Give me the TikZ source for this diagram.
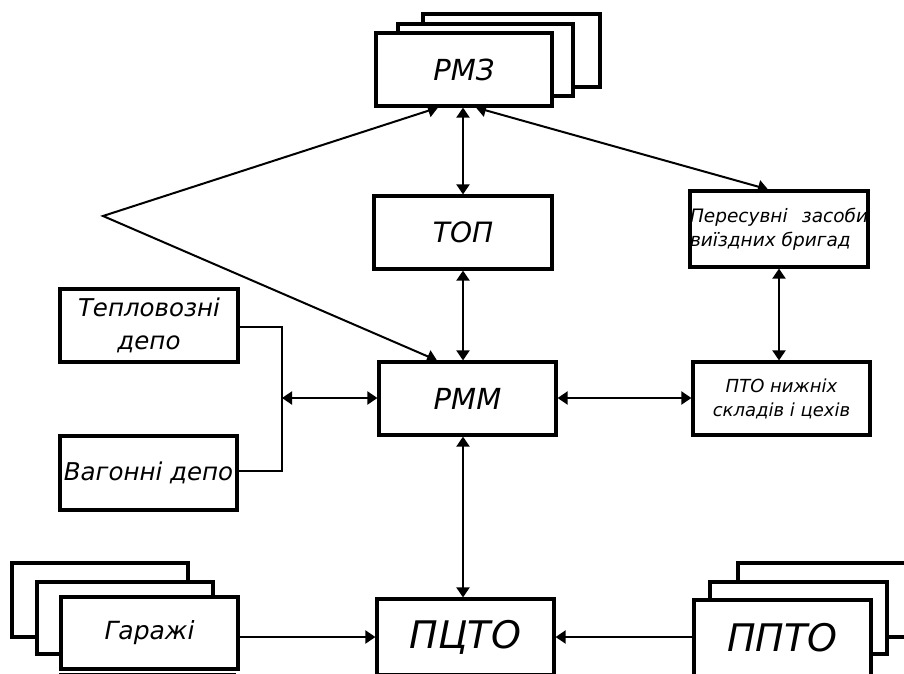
\documentclass[tikz,border=0pt]{standalone}
\usepackage{fontspec}
\newfontfamily\dvs{DejaVu Sans}
\usetikzlibrary{arrows.meta}
\begin{document}
\begin{tikzpicture}[x=1pt,y=-1pt,
  box/.style={draw, line width=3.2pt, fill=white, inner sep=0pt, align=center, font=\dvs\itshape},
  tip/.tip={Triangle[length=10pt,width=13pt]},
  both/.style={line width=2pt, tip-tip},
  into/.style={line width=2pt, -tip},
  thin/.style={line width=1.6pt}]
\clip (0,0) rectangle (904,673);
% RMZ stack
\node[box, minimum width=177pt, minimum height=73pt] (rmzc) at (511.5,50.5) {};
\node[box, minimum width=175pt, minimum height=72pt] (rmzb) at (485.5,60) {};
\node[box, minimum width=176pt, minimum height=73pt, font=\dvs\itshape\fontsize{29}{33}\selectfont] (rmz) at (464,69.5) {РМЗ};
% TOP
\node[box, minimum width=178pt, minimum height=73pt, font=\dvs\itshape\fontsize{28}{33}\selectfont] (top) at (463,232.5) {ТОП};
% RMM
\node[box, minimum width=177pt, minimum height=73pt, font=\dvs\itshape\fontsize{29}{33}\selectfont] (rmm) at (467.5,398.5) {РММ};
% Peresuvni
\node[box, minimum width=178pt, minimum height=76pt, align=left, font=\dvs\itshape\fontsize{18.5}{24}\selectfont] (pere) at (779,229) {\makebox[178pt][s]{Пересувні\hspace{8pt plus 1fil}засоби}\\виїздних бригад\hspace{18pt}};
% PTO
\node[box, minimum width=177pt, minimum height=73pt, font=\dvs\itshape\fontsize{18}{24}\selectfont] (pto) at (781.5,398.5) {ПТО нижніх\\складів і цехів};
% depots
\node[box, minimum width=178pt, minimum height=73pt, font=\dvs\itshape\fontsize{24.5}{33}\selectfont] (tep) at (149,325.5) {Тепловозні\\депо};
\node[box, minimum width=177pt, minimum height=74pt, font=\dvs\itshape\fontsize{24.5}{33}\selectfont] (vag) at (148.5,473) {Вагонні депо};
% PCTO
\node[box, minimum width=177pt, minimum height=76pt, font=\dvs\itshape\fontsize{38}{40}\selectfont] (pcto) at (465.5,637) {ПЦТО};
% Garazhi stack
\node[box, minimum width=176pt, minimum height=74pt] (garc) at (100,600) {};
\node[box, minimum width=176pt, minimum height=72pt] (garb) at (125,618) {};
\node[box, minimum width=177pt, minimum height=72pt, font=\dvs\itshape\fontsize{25}{30}\selectfont] (gar) at (149.5,633) {Гаражі};
% PPTO stack
\node[box, minimum width=177pt, minimum height=74pt] (pptoc) at (826.5,600) {};
\node[box, minimum width=177pt, minimum height=72pt] (pptob) at (798.5,618) {};
\node[box, minimum width=177pt, minimum height=76pt, font=\dvs\itshape\fontsize{38}{40}\selectfont] (ppto) at (782.5,638) {ППТО};
% small doubled edges
\draw[thin] (gar.south west) ++(0,3) -- ++(177,0);
\draw[thin] (ppto.north west) ++(0,3) -- ++(177,0);
\draw[line width=1.6pt] (pere.north west) ++(3,0) -- ++(0,76);
\draw[line width=1.6pt] (vag.north west) ++(2.5,2.5) -- ++(174,0);
% connector junction
\coordinate (apex) at (103,216);
\coordinate (jn) at (282,398);
% connectors
\draw[both] (rmz.south -| 438,0) -- (apex) -- (rmm.north -| 437,0);
\draw[both] (rmz.south -| top.north) -- (top.north);
\draw[both] (top.south) -- (top.south |- rmm.north);
\draw[both] (rmz.south -| 476,0) -- (pere.north -| 768,0);
\draw[both] (pere.south) -- (pere.south |- pto.north);
\draw[both] (rmm.east |- jn) -- (pto.west |- jn);
\draw[thin] (tep.east |- 0,327) -| (jn) |- (vag.east |- 0,471);
\draw[both] (jn) -- (rmm.west |- jn);
\draw[both] (rmm.south -| 463,0) -- (pcto.north -| 463,0);
\draw[into] (gar.east |- 0,637) -- (pcto.west |- 0,637);
\draw[into] (ppto.west |- 0,637) -- (pcto.east |- 0,637);
\draw[thin] (650,637) -- (ppto.west |- 0,637);
\end{tikzpicture}
\end{document}
